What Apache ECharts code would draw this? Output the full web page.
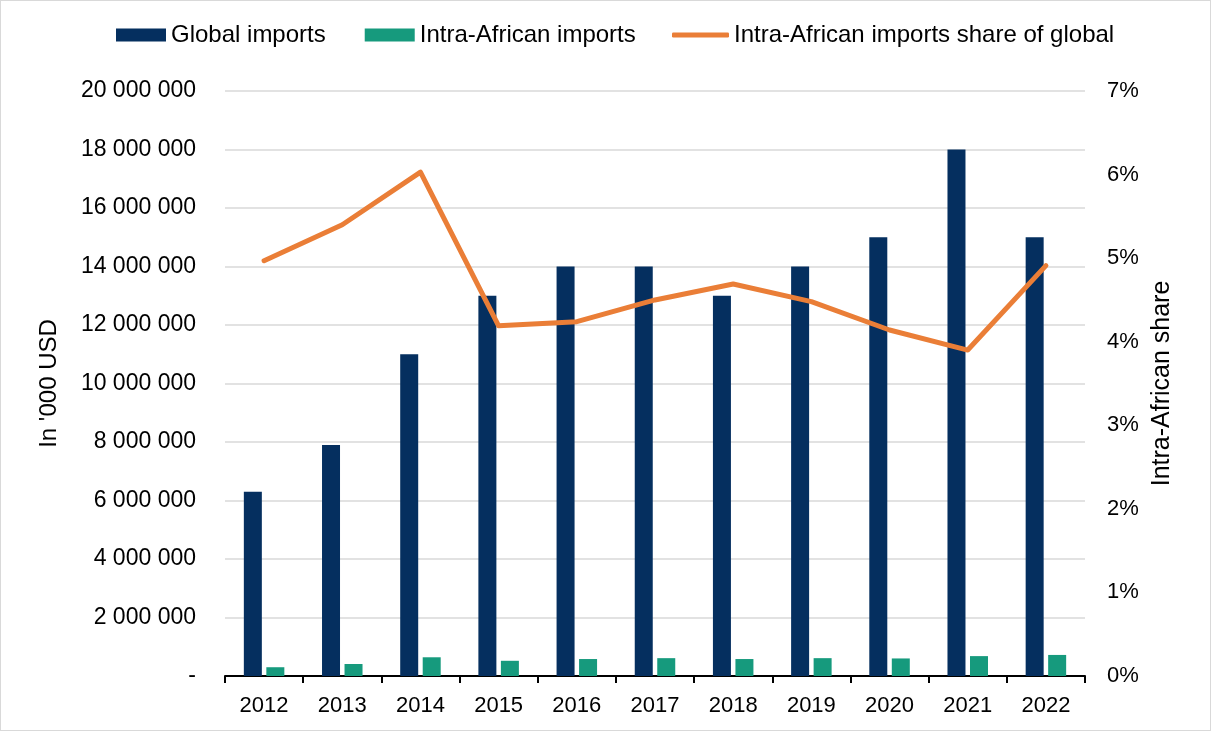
<!DOCTYPE html>
<html>
<head>
<meta charset="utf-8">
<script src="https://cdn.jsdelivr.net/npm/echarts@6/dist/echarts.min.js"></script>
<style>
html,body{margin:0;padding:0;background:#fff;}
#chart{width:1211px;height:731px;box-sizing:border-box;border:1px solid #d9d9d9;}
</style>
</head>
<body>
<div id="chart"></div>
<script>
const years = ['2012','2013','2014','2015','2016','2017','2018','2019','2020','2021','2022'];
const globalImports = [6300000, 7900000, 11000000, 13000000, 14000000, 14000000, 13000000, 14000000, 15000000, 18000000, 15000000];
const intraAfricanImports = [300000, 410000, 640000, 520000, 580000, 610000, 580000, 610000, 600000, 680000, 720000];
const intraShare = [0.0497, 0.0540, 0.0603, 0.0419, 0.0424, 0.0450, 0.0469, 0.0448, 0.0414, 0.0390, 0.0491];

const FONT = '"Liberation Sans", Arial, sans-serif';
function fmtNum(v){
  if (v === 0) return '-';
  return String(Math.round(v)).replace(/\B(?=(\d{3})+(?!\d))/g, ' ');
}

const legendText = { fontSize: 24, color: '#000', fontFamily: FONT };

const chart = echarts.init(document.getElementById('chart'));
chart.setOption({
  animation: false,
  textStyle: { fontFamily: FONT },
  legend: [
    {
      top: 17,
      left: 110,
      itemWidth: 50,
      itemHeight: 13,
      itemGap: 39,
      textStyle: legendText,
      data: [
        { name: 'Global imports', icon: 'rect' },
        { name: 'Intra-African imports', icon: 'rect' }
      ]
    },
    {
      top: 17,
      left: 666,
      itemWidth: 57,
      itemHeight: 5,
      textStyle: legendText,
      data: [
        { name: 'Intra-African imports share of global', icon: 'roundRect' }
      ]
    }
  ],
  grid: { left: 224, right: 125, top: 90, bottom: 54 },
  xAxis: {
    type: 'category',
    data: years,
    axisLine: { show: true, lineStyle: { color: '#000', width: 2 } },
    axisTick: { show: true, length: 7, lineStyle: { color: '#000', width: 2 } },
    axisLabel: { fontSize: 22, color: '#000', margin: 19, fontFamily: FONT }
  },
  yAxis: [
    {
      type: 'value',
      min: 0, max: 20000000, interval: 2000000,
      name: "In '000 USD",
      nameLocation: 'middle',
      nameGap: 164,
      nameRotate: 90,
      nameTextStyle: { fontSize: 24, color: '#000', fontFamily: FONT },
      axisLine: { show: false },
      axisTick: { show: false },
      axisLabel: { fontSize: 23, color: '#000', margin: 29, formatter: fmtNum, fontFamily: FONT },
      splitLine: { show: true, lineStyle: { color: '#d9d9d9', width: 1.5 } }
    },
    {
      type: 'value',
      min: 0, max: 0.07, interval: 0.01,
      name: 'Intra-African share',
      nameLocation: 'middle',
      nameGap: 65,
      nameRotate: 90,
      nameTextStyle: { fontSize: 25, color: '#000', fontFamily: FONT },
      axisLine: { show: false },
      axisTick: { show: false },
      axisLabel: { fontSize: 22, color: '#000', margin: 22, fontFamily: FONT,
        formatter: v => Math.round(v * 100) + '%' },
      splitLine: { show: false }
    }
  ],
  series: [
    {
      name: 'Global imports',
      type: 'bar',
      data: globalImports,
      barWidth: 18,
      barGap: '25%',
      itemStyle: { color: '#052f5f' }
    },
    {
      name: 'Intra-African imports',
      type: 'bar',
      data: intraAfricanImports,
      barWidth: 18,
      itemStyle: { color: '#169a7d' }
    },
    {
      name: 'Intra-African imports share of global',
      type: 'line',
      yAxisIndex: 1,
      data: intraShare,
      symbol: 'none',
      showSymbol: false,
      lineStyle: { color: '#ea7e37', width: 5, cap: 'round', join: 'round' },
      itemStyle: { color: '#ea7e37' }
    }
  ]
});
</script>
</body>
</html>
